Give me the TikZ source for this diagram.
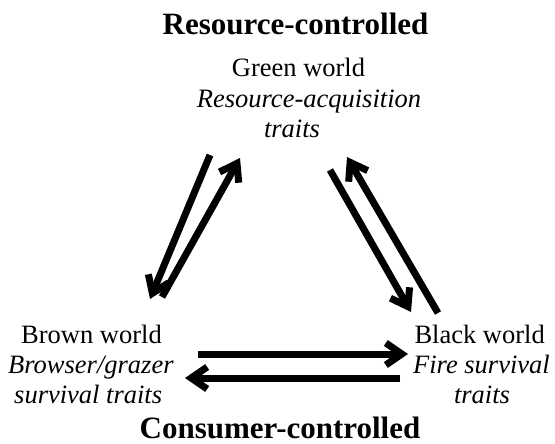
\documentclass[tikz,border=0pt]{standalone}
\usepackage{fontspec}
\setmainfont{Liberation Serif}
\usetikzlibrary{arrows.meta}
\begin{document}
\begin{tikzpicture}[x=1pt,y=-1pt,
  head/.style={font=\fontsize{31}{34}\selectfont\bfseries, inner sep=0pt, anchor=base},
  world/.style={font=\fontsize{26.5}{30}\selectfont, inner sep=0pt, anchor=base},
  trait/.style={font=\fontsize{26.5}{30}\selectfont\itshape, inner sep=0pt, anchor=base},
  flow/.style={line width=7pt, -{Straight Barb[length=16pt,width=22pt,line width=7pt]}}]
\useasboundingbox (0,0) rectangle (555,444);
% texts
\node[head] (rc) at (295.5,35) {Resource-controlled};
\node[world] (gw) at (298.5,77) {Green world};
\node[trait] (gt1) at (309,108) {Resource-acquisition};
\node[trait] (gt2) at (292,138) {traits};
\node[world, anchor=base west] (bw) at (21,343) {Brown world};
\node[trait, anchor=base west] (bt1) at (8,373) {Browser/grazer};
\node[trait, anchor=base west] (bt2) at (14,403) {survival traits};
\node[world, anchor=base east] (kw) at (545,343) {Black world};
\node[trait, anchor=base east] (kt1) at (550,373) {Fire survival};
\node[trait] (kt2) at (482,403) {traits};
\node[head] (cc) at (280,438) {Consumer-controlled};
% arrow end points
\coordinate (g2b-s) at (210,155);
\coordinate (g2b-e) at (150,299);
\coordinate (b2g-s) at (162,297);
\coordinate (b2g-e) at (240,158);
\coordinate (g2k-s) at (330,170);
\coordinate (g2k-e) at (411,312);
\coordinate (k2g-s) at (438,313);
\coordinate (k2g-e) at (347,157);
\coordinate (b2k-s) at (198,354);
\coordinate (b2k-e) at (408,354);
\coordinate (k2b-s) at (400,378);
\coordinate (k2b-e) at (185,378);
\draw[flow] (g2b-s) -- (g2b-e);
\draw[flow] (b2g-s) -- (b2g-e);
\draw[flow] (g2k-s) -- (g2k-e);
\draw[flow] (k2g-s) -- (k2g-e);
\draw[flow] (b2k-s) -- (b2k-e);
\draw[flow] (k2b-s) -- (k2b-e);
\end{tikzpicture}
\end{document}
